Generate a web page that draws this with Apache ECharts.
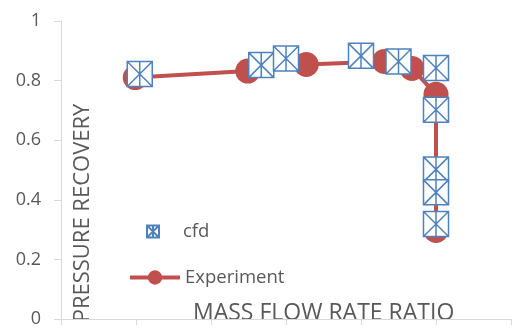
<!DOCTYPE html>
<html>
<head>
<meta charset="utf-8">
<script src="https://cdn.jsdelivr.net/npm/echarts@6/dist/echarts.min.js"></script>
<style>
  html, body { margin: 0; padding: 0; background: #ffffff; }
  #chart { width: 528px; height: 328px; }
</style>
</head>
<body>
<div id="chart"></div>
<script>
// Mass flow rate ratio vs. pressure recovery
const expX = [0.099, 0.249, 0.327, 0.431, 0.468, 0.500, 0.500];
const expY = [0.810, 0.832, 0.854, 0.864, 0.841, 0.754, 0.297];
const cfdX = [0.105, 0.267, 0.300, 0.400, 0.450, 0.500, 0.500, 0.500, 0.500, 0.500];
const cfdY = [0.822, 0.852, 0.874, 0.883, 0.864, 0.842, 0.702, 0.502, 0.425, 0.319];
const yTicks = [0, 0.2, 0.4, 0.6, 0.8, 1];
const seriesNames = ['Experiment', 'cfd'];
const xTitle = 'MASS FLOW RATE RATIO';
const yTitle = 'PRESSURE RECOVERY';

const FONT = '"Open Sans", "Noto Sans", sans-serif';
const GREY = '#595959';
const AXIS = '#d9d9d9';
const RED = '#C0504D';
const BLUE = '#4F81BD';

// boxed asterisk marker
const boxStar = 'path://M0,0H10V10H0Z M0,0L10,10 M10,0L0,10 M5,0V10';

const chart = echarts.init(document.getElementById('chart'), null, { renderer: 'canvas' });

chart.setOption({
  animation: false,
  backgroundColor: '#ffffff',
  grid: { left: 61, right: 17, top: 21, bottom: 6, containLabel: false },
  xAxis: {
    type: 'value',
    min: 0, max: 0.6, interval: 0.1,
    axisLine: { show: true, lineStyle: { color: AXIS, width: 1 } },
    axisTick: { show: true, length: 6, lineStyle: { color: AXIS } },
    axisLabel: { show: false },
    splitLine: { show: false }
  },
  yAxis: {
    type: 'value',
    min: yTicks[0], max: yTicks[yTicks.length - 1], interval: yTicks[1] - yTicks[0],
    axisLine: { show: true, lineStyle: { color: AXIS, width: 1 } },
    axisTick: { show: true, length: 7, lineStyle: { color: AXIS } },
    axisLabel: { color: GREY, fontSize: 18, fontFamily: FONT, margin: 20 },
    splitLine: { show: false }
  },
  legend: [
    {
      data: [seriesNames[1]],
      orient: 'vertical',
      left: 128, top: 222, padding: 0,
      itemWidth: 50, itemHeight: 15, itemGap: 5,
      textStyle: { color: GREY, fontSize: 18.5, fontFamily: FONT },
      selectedMode: false
    },
    {
      data: [seriesNames[0]],
      orient: 'vertical',
      left: 128, top: 268, padding: 0,
      itemWidth: 50, itemHeight: 18, itemGap: 5,
      lineStyle: { width: 4 },
      textStyle: { color: GREY, fontSize: 18.5, fontFamily: FONT },
      selectedMode: false
    }
  ],
  graphic: [
    {
      type: 'text',
      left: 193, top: 302,
      style: { text: xTitle, fill: GREY, fontSize: 23, fontFamily: FONT }
    },
    {
      type: 'text',
      x: 83, y: 213,
      rotation: Math.PI / 2,
      style: {
        text: yTitle, fill: GREY, fontSize: 22, fontFamily: FONT,
        align: 'center', verticalAlign: 'middle'
      }
    }
  ],
  series: [
    {
      name: seriesNames[0],
      type: 'line',
      data: expX.map((x, i) => [x, expY[i]]),
      symbol: 'circle',
      symbolSize: 25,
      itemStyle: { color: RED },
      lineStyle: { color: RED, width: 4 },
      emphasis: { disabled: true },
      z: 2
    },
    {
      name: seriesNames[1],
      type: 'line',
      data: cfdX.map((x, i) => [x, cfdY[i]]),
      symbol: boxStar,
      symbolSize: 25,
      itemStyle: { color: '#ffffff', borderColor: BLUE, borderWidth: 1.5 },
      lineStyle: { width: 0, opacity: 0 },
      emphasis: { disabled: true },
      z: 3
    }
  ]
});
</script>
</body>
</html>
